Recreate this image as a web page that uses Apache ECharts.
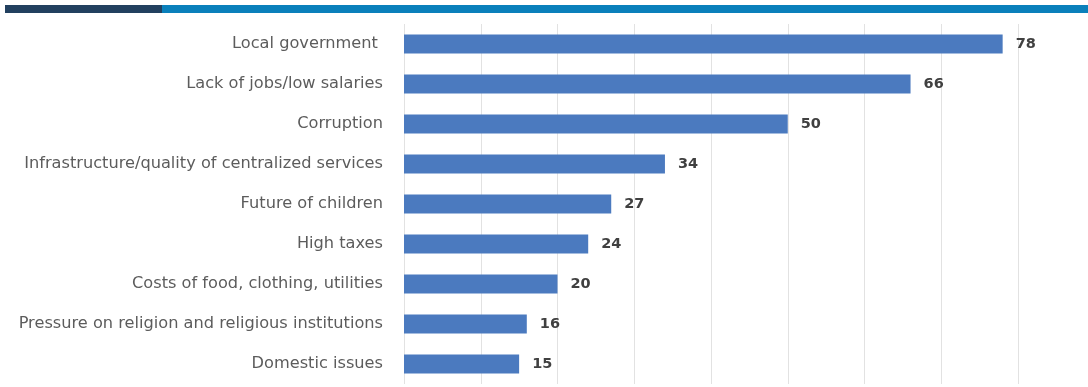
<!DOCTYPE html>
<html>
<head>
<meta charset="utf-8">
<style>
  html, body { margin: 0; padding: 0; background: #ffffff; }
  #chart { width: 1088px; height: 387px; }
</style>
<script src="https://cdn.jsdelivr.net/npm/echarts@6/dist/echarts.min.js"></script>
</head>
<body>
<div id="chart"></div>
<script>
// Problem areas, listed top to bottom
const categories = [
  'Local government ',
  'Lack of jobs/low salaries',
  'Corruption',
  'Infrastructure/quality of centralized services',
  'Future of children',
  'High taxes',
  'Costs of food, clothing, utilities',
  'Pressure on religion and religious institutions',
  'Domestic issues'
];
const values = [78, 66, 50, 34, 27, 24, 20, 16, 15];

const chart = echarts.init(document.getElementById('chart'), null, { renderer: 'canvas' });

chart.setOption({
  animation: false,
  backgroundColor: '#ffffff',
  textStyle: { fontFamily: 'DejaVu Sans, sans-serif' },
  graphic: [
    { type: 'rect', left: 5, top: 5, shape: { width: 157, height: 8 }, style: { fill: '#22405f' } },
    { type: 'rect', left: 162, top: 5, shape: { width: 926, height: 8 }, style: { fill: '#0a80bb' } }
  ],
  grid: { left: 404, right: 70, top: 24, bottom: 3, containLabel: false },
  xAxis: {
    type: 'value',
    min: 0,
    max: 80,
    interval: 10,
    axisLabel: { show: false },
    axisLine: { show: false },
    axisTick: { show: false },
    splitLine: { show: true, lineStyle: { color: '#e2e2e2', width: 1 } }
  },
  yAxis: {
    type: 'category',
    inverse: true,
    data: categories,
    axisLine: { show: false },
    axisTick: { show: false },
    axisLabel: {
      margin: 21,
      color: '#5c5c5c',
      fontSize: 16.2,
      fontFamily: 'DejaVu Sans, sans-serif'
    }
  },
  series: [{
    type: 'bar',
    data: values,
    barCategoryGap: '52%',
    itemStyle: { color: '#4b7abf' },
    label: {
      show: true,
      position: 'right',
      distance: 13,
      color: '#404040',
      fontWeight: 'bold',
      fontSize: 14.5,
      fontFamily: 'DejaVu Sans, sans-serif'
    }
  }]
});
</script>
</body>
</html>
